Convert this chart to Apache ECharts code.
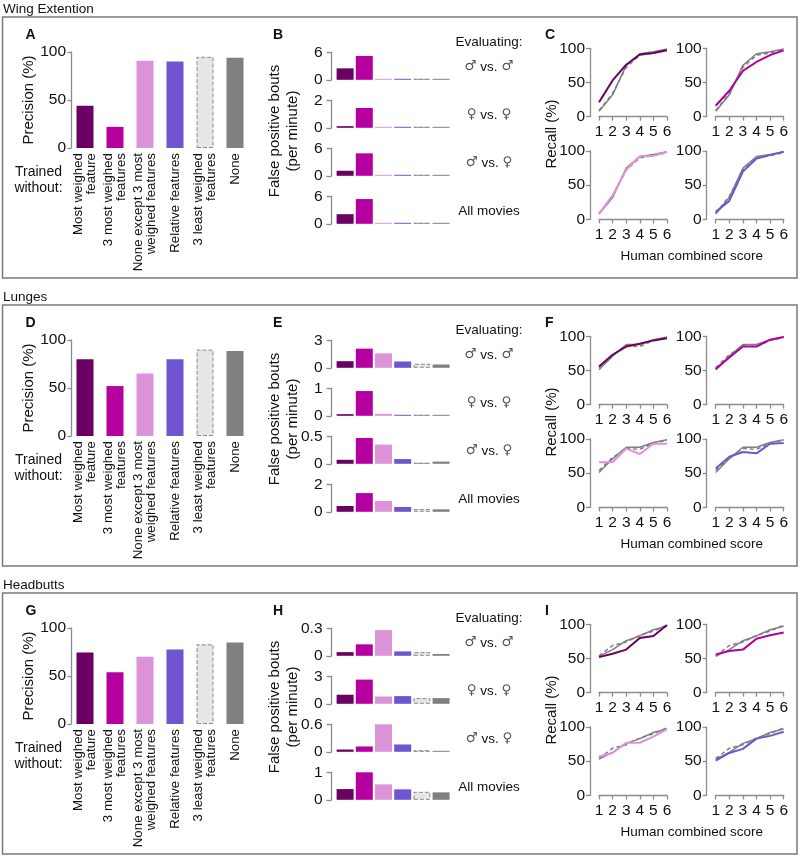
<!DOCTYPE html>
<html>
<head>
<meta charset="utf-8">
<script src="https://cdn.jsdelivr.net/npm/echarts@6/dist/echarts.min.js"></script>
<style>html,body{margin:0;padding:0;background:#fff}#main{width:800px;height:857px}</style>
</head>
<body>
<div id="main"></div>
<script>
// ---------- labels ----------
const sectionTitles = ['Wing Extention', 'Lunges', 'Headbutts'];
const panelLetters = [['A', 'B', 'C'], ['D', 'E', 'F'], ['G', 'H', 'I']];
const categories = ['Most weighed\nfeature', '3 most weighed\nfeatures', 'None except 3 most\nweighed features', 'Relative features', '3 least weighed\nfeatures', 'None'];
const evalLabels = ['♂ vs. ♂', '♀ vs. ♀', '♂ vs. ♀', 'All movies'];
const scoreTicks = ['1', '2', '3', '4', '5', '6'];

// ---------- precision (%) ----------
const precisionWing = [44, 22, 91, 90, 95, 94];
const precisionLunges = [80, 52, 65, 80, 90, 88.5];
const precisionHeadbutts = [74.5, 54, 70, 77.5, 83, 85];

// ---------- false positive bouts (per minute) ----------
const fpWingMM = [2.5, 5.2, 0.1, 0.1, 0.03, 0.08];
const fpWingFF = [0.12, 1.44, 0.01, 0.01, 0.01, 0.02];
const fpWingMF = [1.1, 4.9, 0.08, 0.08, 0.02, 0.05];
const fpWingAll = [2.1, 5.4, 0.1, 0.1, 0.03, 0.08];
const fpWingMax = [6, 2, 6, 6];

const fpLungesMM = [0.72, 2.09, 1.57, 0.69, 0.44, 0.36];
const fpLungesFF = [0.06, 0.9, 0.07, 0.03, 0.01, 0.02];
const fpLungesMF = [0.073, 0.47, 0.35, 0.086, 0.01, 0.04];
const fpLungesAll = [0.42, 1.36, 0.79, 0.35, 0.2, 0.18];
const fpLungesMax = [3, 1, 0.5, 2];

const fpHeadbuttsMM = [0.04, 0.125, 0.28, 0.048, 0.04, 0.02];
const fpHeadbuttsFF = [0.99, 2.64, 0.8, 0.84, 0.62, 0.62];
const fpHeadbuttsMF = [0.05, 0.117, 0.6, 0.16, 0.035, 0.01];
const fpHeadbuttsAll = [0.39, 1.02, 0.56, 0.38, 0.29, 0.27];
const fpHeadbuttsMax = [0.3, 3, 0.6, 1];

// ---------- recall (%) by human combined score ----------
const recallWingNone = [8, 32, 75, 92, 95, 99];
const recallWingLeast = [9, 34, 72, 90, 93, 98];
const recallWingMost = [21, 53, 76, 91, 93, 97];
const recallWing3Most = [16, 38, 67, 80, 90, 97];
const recallWingNoneExcept = [8, 35, 73, 92, 93, 99];
const recallWingRelative = [11, 27, 70, 89, 94, 99];

const recallLungesNone = [51, 71, 88, 88, 95, 99];
const recallLungesLeast = [54, 73, 86, 85, 94, 98];
const recallLungesMost = [56, 73, 85, 89, 94, 97];
const recallLunges3Most = [52, 69, 85, 85, 95, 99];
const recallLungesNoneExcept = [66, 66, 86, 78, 93, 93];
const recallLungesRelative = [57, 74, 81, 79, 93, 94];

const recallHeadbuttsNone = [53, 63, 76, 83, 92, 97];
const recallHeadbuttsLeast = [54, 69, 74, 84, 90, 99];
const recallHeadbuttsMost = [52, 57, 63, 80, 83, 99];
const recallHeadbutts3Most = [56, 61, 63, 79, 84, 88];
const recallHeadbuttsNoneExcept = [57, 62, 77, 77, 86, 97];
const recallHeadbuttsRelative = [51, 62, 68, 83, 87, 93];

// ---------- assembly ----------
const precision = [precisionWing, precisionLunges, precisionHeadbutts];
const fp = [
  [fpWingMM, fpWingFF, fpWingMF, fpWingAll],
  [fpLungesMM, fpLungesFF, fpLungesMF, fpLungesAll],
  [fpHeadbuttsMM, fpHeadbuttsFF, fpHeadbuttsMF, fpHeadbuttsAll]
];
const fpMax = [fpWingMax, fpLungesMax, fpHeadbuttsMax];
const recallColored = [
  [recallWingMost, recallWing3Most, recallWingNoneExcept, recallWingRelative],
  [recallLungesMost, recallLunges3Most, recallLungesNoneExcept, recallLungesRelative],
  [recallHeadbuttsMost, recallHeadbutts3Most, recallHeadbuttsNoneExcept, recallHeadbuttsRelative]
];
const recallNone = [recallWingNone, recallLungesNone, recallHeadbuttsNone];
const recallLeast = [recallWingLeast, recallLungesLeast, recallHeadbuttsLeast];

const barColors = ['#6b0062', '#b5009f', '#dc93d8', '#6f55cf', '#e6e6e6', '#808080'];
const FONT = 'Liberation Sans, Arial, Helvetica, sans-serif';
const AX = '#8c8c8c';
const TXT = '#111';

const grids = [], xAxes = [], yAxes = [], series = [], graphics = [];

function barItems(vals) {
  return vals.map((v, k) => ({
    value: v,
    itemStyle: k === 4
      ? { color: barColors[4], borderColor: '#8a8a8a', borderWidth: 1, borderType: 'dashed' }
      : { color: barColors[k] }
  }));
}

function text(x, y, str, o) {
  o = o || {};
  const style = {
    text: str, fill: TXT, fontFamily: FONT, fontSize: o.size || 13.5,
    fontWeight: o.weight || 'normal', align: o.align || 'left', verticalAlign: 'middle'
  };
  if (o.lineHeight) style.lineHeight = o.lineHeight;
  if (o.rich) style.rich = o.rich;
  graphics.push({ type: 'text', x: x, y: y, rotation: o.rotation || 0, silent: true, z: 10, style: style });
}

const symRich = { s: { fontFamily: 'DejaVu Sans', fontSize: 13.5, fill: '#555' } };
function evalText(label) {
  return label.replace(/[♂♀]/g, m => '{s|' + m + '}');
}

for (let s = 0; s < 3; s++) {
  const off = s * 288;
  // section frame + title
  graphics.push({ type: 'rect', silent: true, z: 1, shape: { x: 2.5, y: 17 + off, width: 794.5, height: 261 },
    style: { fill: 'none', stroke: '#7a7a7a', lineWidth: 1.5 } });
  text(3, 9.5 + off, sectionTitles[s], { size: 13.5 });
  text(25.5, 35.5 + off, panelLetters[s][0], { size: 14, weight: 'bold' });
  text(273, 35.5 + off, panelLetters[s][1], { size: 14, weight: 'bold' });
  text(545, 35.5 + off, panelLetters[s][2], { size: 14, weight: 'bold' });
  text(38.5, 180 + off, 'Trained\nwithout:', { size: 14, align: 'center', lineHeight: 16 });

  // ---- panel A / D / G ----
  let gi = grids.length;
  grids.push({ left: 70, top: 52 + off, width: 180, height: 96 });
  xAxes.push({ type: 'category', gridIndex: gi, data: categories,
    axisLine: { show: false }, axisTick: { show: false },
    axisLabel: { rotate: 90, interval: 0, margin: 5, fontSize: 13.3, lineHeight: 13, color: TXT, fontFamily: FONT } });
  yAxes.push({ type: 'value', gridIndex: gi, min: 0, max: 100, interval: 50, offset: -1,
    name: 'Precision (%)', nameLocation: 'middle', nameGap: 30,
    nameTextStyle: { fontSize: 15, color: TXT, fontFamily: FONT },
    axisLine: { show: true, lineStyle: { color: AX, width: 1.3 } },
    axisTick: { show: true, length: 3.5, lineStyle: { color: AX, width: 1.3 } },
    axisLabel: { fontSize: 15.5, margin: 5, color: TXT, fontFamily: FONT },
    splitLine: { show: false } });
  series.push({ type: 'bar', xAxisIndex: gi, yAxisIndex: gi, barWidth: 17, data: barItems(precision[s]), silent: true });

  // ---- panel B / E / H ----
  text(489, 42 + off, 'Evaluating:', { size: 13.5, align: 'center' });
  text(284, 131 + off, 'False positive bouts\n(per minute)', { size: 15, align: 'center', rotation: Math.PI / 2, lineHeight: 18 });
  for (let i = 0; i < 4; i++) {
    const top = 52.3 + 48 * i + off;
    gi = grids.length;
    grids.push({ left: 335.5, top: top, width: 115.2, height: 27.5 });
    xAxes.push({ type: 'category', gridIndex: gi, data: categories, show: false });
    yAxes.push({ type: 'value', gridIndex: gi, min: 0, max: fpMax[s][i], interval: fpMax[s][i], offset: 4,
      axisLine: { show: true, lineStyle: { color: AX, width: 1.3 } },
      axisTick: { show: true, length: 5, lineStyle: { color: AX, width: 1.3 } },
      axisLabel: { fontSize: 15.5, margin: 9, color: TXT, fontFamily: FONT },
      splitLine: { show: false } });
    series.push({ type: 'bar', xAxisIndex: gi, yAxisIndex: gi, barWidth: 17, barMinHeight: 1,
      data: barItems(fp[s][i]), silent: true });
    text(489, top + 14.5, evalText(evalLabels[i]), { size: 13.5, align: 'center', rich: symRich });
  }

  // ---- panel C / F / I ----
  text(551.7, 134 + off, 'Recall (%)', { size: 15, align: 'center', rotation: Math.PI / 2 });
  text(691.7, 256.5 + off, 'Human combined score', { size: 13.5, align: 'center' });
  const lefts = [599, 715.7], tops = [48.3, 151];
  for (let r = 0; r < 2; r++) {
    for (let c = 0; c < 2; c++) {
      const k = r * 2 + c;
      gi = grids.length;
      grids.push({ left: lefts[c], top: tops[r] + off, width: 68, height: 68.4 });
      xAxes.push({ type: 'category', gridIndex: gi, data: scoreTicks, boundaryGap: false, offset: 2.5,
        axisLine: { show: true, lineStyle: { color: AX, width: 1.3 } },
        axisTick: { show: true, length: 4, alignWithLabel: true, lineStyle: { color: AX, width: 1.3 } },
        axisLabel: { fontSize: 15.5, margin: 5, color: TXT, fontFamily: FONT, interval: 0 } });
      yAxes.push({ type: 'value', gridIndex: gi, min: 0, max: 100, interval: 50, offset: 9,
        axisLine: { show: true, lineStyle: { color: AX, width: 1.3 } },
        axisTick: { show: true, length: 4, lineStyle: { color: AX, width: 1.3 } },
        axisLabel: { fontSize: 15.5, margin: 5, color: TXT, fontFamily: FONT },
        splitLine: { show: false } });
      series.push({ type: 'line', xAxisIndex: gi, yAxisIndex: gi, data: recallLeast[s], symbol: 'none', silent: true,
        lineStyle: { color: '#7f7f7f', width: 1.5, type: [4, 3] }, z: 2 });
      series.push({ type: 'line', xAxisIndex: gi, yAxisIndex: gi, data: recallNone[s], symbol: 'none', silent: true,
        lineStyle: { color: '#7f7f7f', width: 1.5 }, z: 3 });
      series.push({ type: 'line', xAxisIndex: gi, yAxisIndex: gi, data: recallColored[s][k], symbol: 'none', silent: true,
        lineStyle: { color: barColors[k], width: 2 }, z: 4 });
    }
  }
}

const chart = echarts.init(document.getElementById('main'), null, { renderer: 'canvas' });
chart.setOption({
  animation: false,
  backgroundColor: '#fff',
  textStyle: { fontFamily: FONT },
  grid: grids, xAxis: xAxes, yAxis: yAxes, series: series,
  graphic: graphics
});
</script>
</body>
</html>
